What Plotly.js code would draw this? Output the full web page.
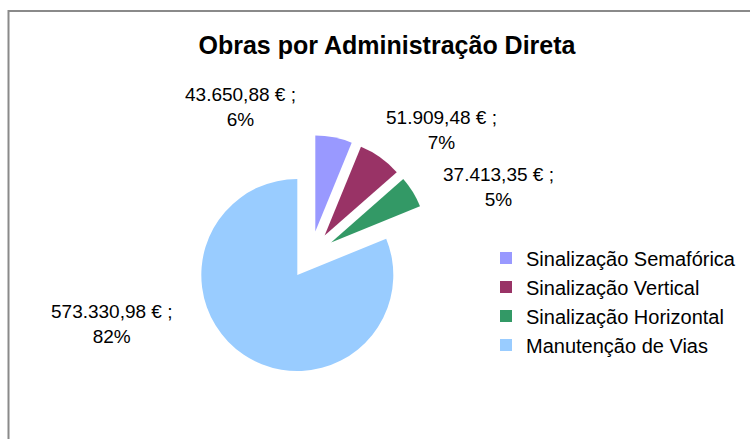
<!DOCTYPE html>
<html>
<head>
<meta charset="utf-8">
<script src="https://cdn.plot.ly/plotly-3.0.1.min.js"></script>
<style>
  html, body { margin: 0; padding: 0; background: #fff; }
  #chart { width: 750px; height: 439px; }
</style>
</head>
<body>
<div id="chart"></div>
<script>
// ---- data ----
const categories = ["Sinalização Semafórica", "Sinalização Vertical", "Sinalização Horizontal", "Manutenção de Vias"];
const values = [43650.88, 51909.48, 37413.35, 573330.98];
const percentLabels = [6, 7, 5, 82];
const colors = ["#9999FF", "#993366", "#339966", "#99CCFF"];
const chartTitle = "Obras por Administração Direta";

// label anchor positions in paper pixels (layout only)
const labelPos = [[240.5, 106.5], [441, 130], [498, 187], [112, 324]];

function fmtEuro(v) {
  const parts = v.toFixed(2).split(".");
  const intPart = parts[0].replace(/\B(?=(\d{3})+(?!\d))/g, ".");
  return intPart + "," + parts[1] + " €";
}

const W = 750, H = 439;
const cx = 310.7, cy = 255.1, half = 120;

const annotations = values.map((v, i) => ({
  xref: "paper", yref: "paper",
  x: labelPos[i][0] / W, y: 1 - labelPos[i][1] / H,
  xanchor: "center", yanchor: "middle", align: "center",
  showarrow: false,
  text: fmtEuro(v) + " ;<br>" + percentLabels[i] + "%",
  font: { family: "Liberation Sans, Arial, sans-serif", size: 19, color: "#000" }
}));

const trace = {
  type: "pie",
  labels: categories,
  values: values,
  sort: false,
  direction: "clockwise",
  rotation: 0,
  pull: 0.25,
  textinfo: "none",
  hoverinfo: "label+value+percent",
  marker: { colors: colors, line: { width: 0 } },
  domain: {
    x: [(cx - half) / W, (cx + half) / W],
    y: [1 - (cy + half) / H, 1 - (cy - half) / H]
  }
};

const layout = {
  width: W, height: H,
  margin: { l: 0, r: 0, t: 0, b: 0 },
  paper_bgcolor: "#fff",
  font: { family: "Liberation Sans, Arial, sans-serif", color: "#000" },
  title: {
    text: "<b>" + chartTitle + "</b>",
    font: { family: "Liberation Sans, Arial, sans-serif", size: 25, color: "#000" },
    xref: "paper", yref: "container",
    x: 387 / W, xanchor: "center",
    y: 1 - 45 / H, yanchor: "middle"
  },
  showlegend: true,
  legend: {
    x: 486 / W, xanchor: "left",
    y: 1 - 301.5 / H, yanchor: "middle",
    font: { family: "Liberation Sans, Arial, sans-serif", size: 20, color: "#000" },
    bgcolor: "rgba(0,0,0,0)"
  },
  annotations: annotations,
  shapes: [{
    type: "rect", xref: "paper", yref: "paper",
    x0: 8.5 / W, x1: 1.05, y0: -0.05, y1: 1 - 11 / H,
    line: { color: "#8a8a8a", width: 2 }, fillcolor: "rgba(0,0,0,0)"
  }]
};

Plotly.newPlot("chart", [trace], layout, { displayModeBar: false, staticPlot: true });
</script>
</body>
</html>
